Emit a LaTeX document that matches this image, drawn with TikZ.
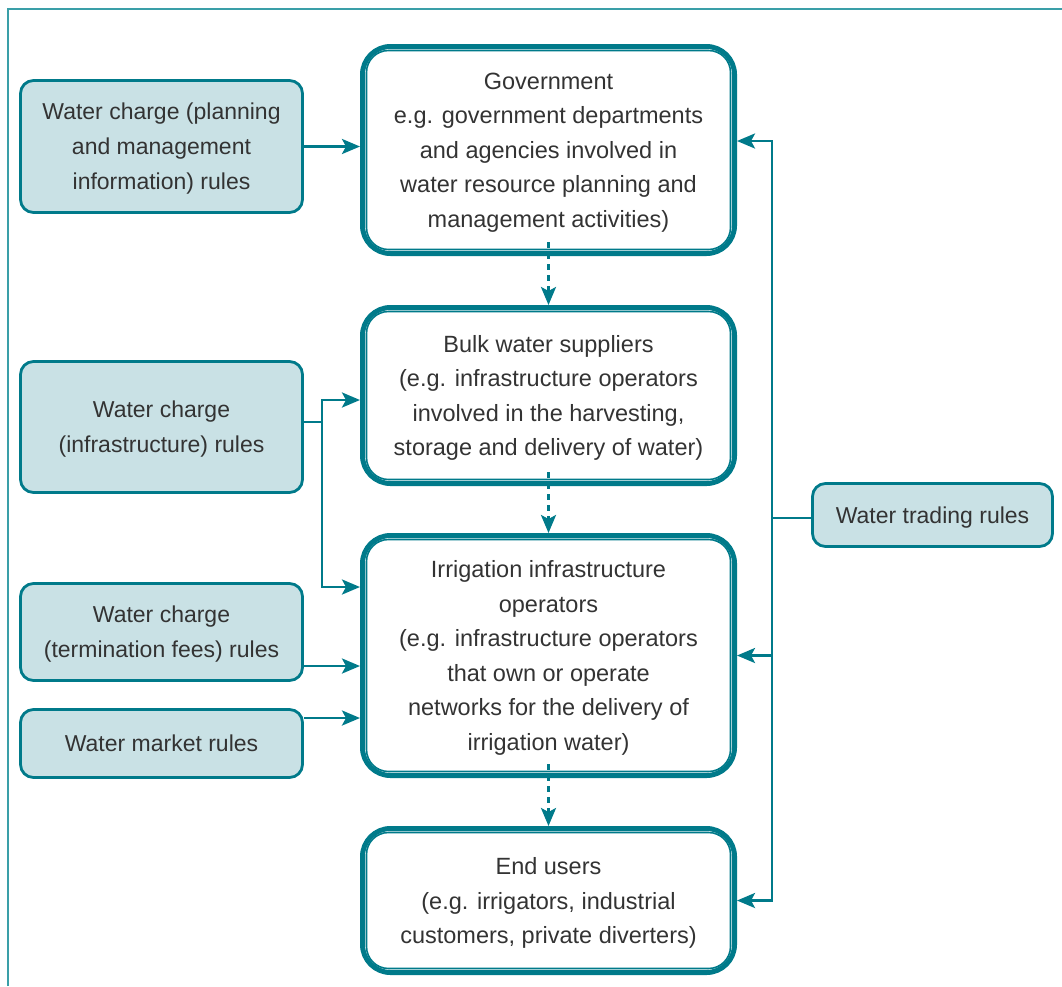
\documentclass[tikz,border=0pt]{standalone}
\usepackage{fontspec}
\setmainfont{Liberation Sans}
\usetikzlibrary{arrows.meta}

\definecolor{wteal}{HTML}{007A8A}
\definecolor{wfill}{HTML}{C9E1E5}
\definecolor{wframe}{HTML}{3A9FA8}
\definecolor{wtext}{HTML}{333333}

\tikzset{
  rulebox/.style={draw=wteal, line width=2.8pt, fill=wfill, rounded corners=13pt,
    align=center, text=wtext, font=\fontsize{23}{35}\selectfont, text depth=0pt,
    minimum width=282pt},
  bodybox/.style={draw=wteal, line width=5pt, rounded corners=28pt,
    align=center, text=wtext, font=\fontsize{23.5}{34.5}\selectfont, text depth=0pt,
    minimum width=372pt},
  innerline/.style={draw=wteal, line width=1.6pt, rounded corners=22pt},
  link/.style={draw=wteal, line width=2.8pt},
  arr/.style={link, -{Stealth[length=18pt,width=15pt,inset=4pt]}},
  flow/.style={arr, dash pattern=on 6pt off 5pt}
}

\begin{document}
\begin{tikzpicture}[x=1pt,y=-1pt]
  \useasboundingbox (0,0) rectangle (1062,986);
  % frame
  \draw[wframe, line width=1.5pt] (8,986) -- (8,9) -- (1062,9);

  % main column
  \node[bodybox, minimum height=207pt] (gov) at (548.5,150)
    {Government\\e.g. government departments\\and agencies involved in\\water resource planning and\\management activities)};
  \node[bodybox, minimum height=176pt] (bulk) at (548.5,395.5)
    {Bulk water suppliers\\(e.g. infrastructure operators\\involved in the harvesting,\\storage and delivery of water)};
  \node[bodybox, minimum height=240pt] (irr) at (548.5,655.5)
    {Irrigation infrastructure\\operators\\(e.g. infrastructure operators\\that own or operate\\networks for the delivery of\\irrigation water)};
  \node[bodybox, minimum height=144pt] (users) at (548.5,900.5)
    {End users\\(e.g. irrigators, industrial\\customers, private diverters)};
  \foreach \n in {gov,bulk,irr,users}
    \draw[innerline] ([shift={(6.5pt,6.5pt)}]\n.south west) rectangle ([shift={(-6.5pt,-6.5pt)}]\n.north east);

  % rules on the left
  \node[rulebox, minimum height=132pt] (plan) at (161.5,146.5)
    {Water charge (planning\\and management\\information) rules};
  \node[rulebox, minimum height=131pt] (infra) at (161.5,427)
    {Water charge\\(infrastructure) rules};
  \node[rulebox, minimum height=97pt] (term) at (161.5,632)
    {Water charge\\(termination fees) rules};
  \node[rulebox, minimum height=68pt] (market) at (161.5,743.5)
    {Water market rules};

  % rules on the right
  \node[rulebox, minimum width=240pt, minimum height=63pt] (trade) at (932.5,515)
    {Water trading rules};

  % flow down the column
  \draw[flow] ([yshift=14pt]gov.south) -- (bulk.north);
  \draw[flow] ([yshift=14pt]bulk.south) -- (irr.north);
  \draw[flow] ([yshift=14pt]irr.south) -- (users.north);

  % left connectors
  \draw[arr] (plan.east) -- (plan.east -| gov.west);
  \coordinate (lj) at ([yshift=5pt]infra.east);
  \draw[link] (lj) -- ++(18,0) coordinate (lk);
  \draw[arr] (lk) |- ([yshift=-4.5pt]bulk.west);
  \draw[arr] (lk) |- ([yshift=68.5pt]irr.west);
  \coordinate (tj) at ([yshift=-34pt]term.east);
  \draw[arr] (tj) -- (tj -| irr.west);
  \coordinate (mj) at ([yshift=25.5pt]market.east);
  \draw[arr] (mj) -- (mj -| irr.west);

  % right connectors
  \coordinate (rj) at (772,518);
  \draw[link] (trade.west |- rj) -- (rj);
  \draw[arr] (rj) |- ([yshift=9pt]gov.east);
  \draw[arr] (rj) |- (users.east);
  \draw[arr] (rj |- irr.east) -- (irr.east);
\end{tikzpicture}
\end{document}
